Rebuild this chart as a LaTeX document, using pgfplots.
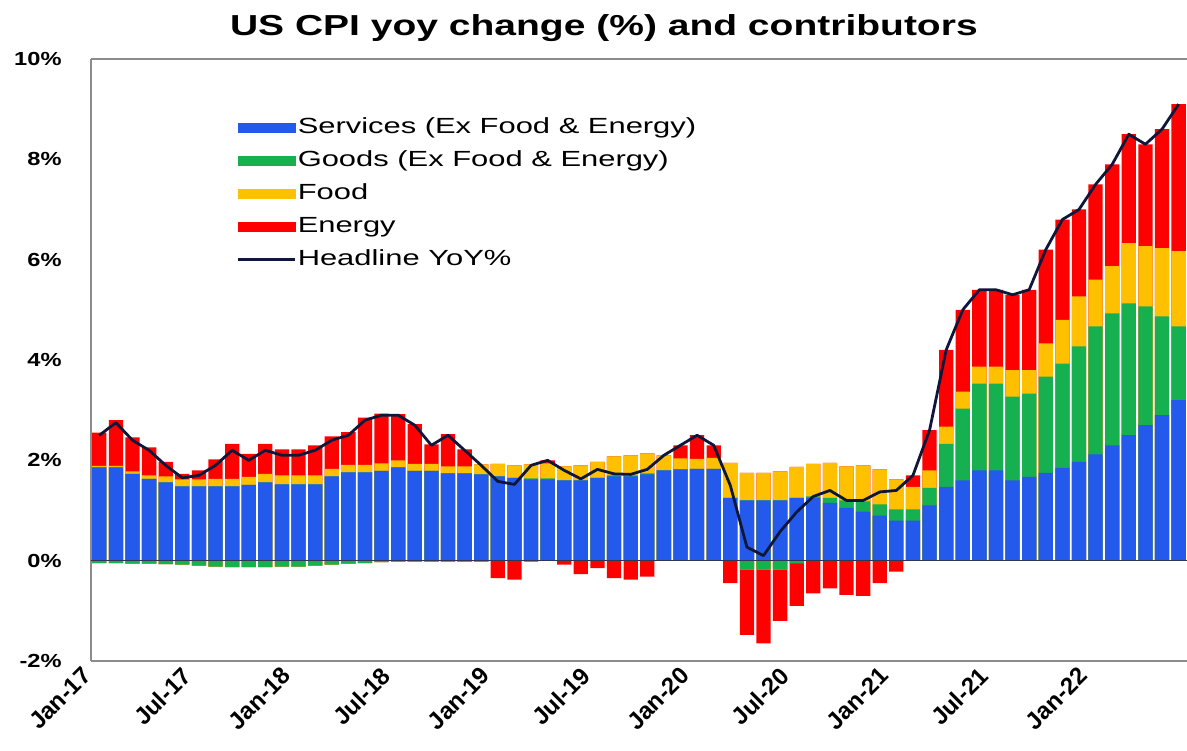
\documentclass[border=0pt]{standalone}
\usepackage{pgfplots}
\pgfplotsset{compat=1.18}
\usepackage{pgfplotstable}
\usepackage{graphicx}
\usepackage{fontspec}
\setmainfont{Liberation Sans}
\definecolor{cS}{RGB}{36,90,235}
\definecolor{cG}{RGB}{22,176,80}
\definecolor{cF}{RGB}{255,192,0}
\definecolor{cE}{RGB}{255,0,0}
\definecolor{cH}{RGB}{14,22,58}
\definecolor{cAx}{RGB}{140,140,140}
\pgfplotstableread{
idx S G F E H
0 1.86 -0.05 0.03 0.66 2.5
1 1.86 -0.05 0.03 0.91 2.75
2 1.73 -0.06 0.05 0.68 2.4
3 1.63 -0.06 0.07 0.56 2.2
4 1.56 -0.07 0.12 0.29 1.9
5 1.48 -0.08 0.14 0.11 1.65
6 1.48 -0.10 0.14 0.18 1.7
7 1.48 -0.12 0.15 0.39 1.9
8 1.48 -0.13 0.15 0.70 2.2
9 1.51 -0.13 0.16 0.46 2.0
10 1.56 -0.13 0.17 0.60 2.2
11 1.52 -0.12 0.18 0.52 2.1
12 1.52 -0.12 0.18 0.52 2.1
13 1.52 -0.10 0.18 0.60 2.2
14 1.68 -0.08 0.15 0.65 2.4
15 1.76 -0.06 0.15 0.65 2.5
16 1.76 -0.05 0.15 0.94 2.8
17 1.79 -0.03 0.15 0.99 2.9
18 1.86 -0.02 0.14 0.92 2.9
19 1.79 -0.02 0.14 0.79 2.7
20 1.79 -0.02 0.14 0.39 2.3
21 1.74 -0.02 0.14 0.64 2.5
22 1.74 -0.02 0.14 0.34 2.2
23 1.72 -0.02 0.20 0.00 1.9
24 1.68 0.00 0.25 -0.35 1.58
25 1.65 0.00 0.25 -0.38 1.52
26 1.62 0.02 0.28 -0.02 1.9
27 1.62 0.02 0.30 0.06 2.0
28 1.60 0.00 0.28 -0.08 1.8
29 1.60 0.00 0.30 -0.27 1.63
30 1.65 0.00 0.32 -0.15 1.82
31 1.68 0.02 0.38 -0.35 1.73
32 1.68 0.02 0.40 -0.38 1.72
33 1.72 0.02 0.40 -0.32 1.82
34 1.80 0.00 0.30 0.00 2.1
35 1.82 0.00 0.22 0.26 2.3
36 1.83 0.00 0.20 0.47 2.5
37 1.83 0.00 0.22 0.25 2.3
38 1.25 0.00 0.70 -0.45 1.5
39 1.20 -0.18 0.55 -1.30 0.27
40 1.20 -0.18 0.55 -1.47 0.1
41 1.20 -0.18 0.58 -1.02 0.58
42 1.25 -0.05 0.62 -0.85 0.97
43 1.25 0.03 0.65 -0.65 1.28
44 1.15 0.10 0.70 -0.55 1.4
45 1.05 0.15 0.68 -0.68 1.2
46 0.98 0.20 0.72 -0.70 1.2
47 0.90 0.22 0.70 -0.45 1.37
48 0.80 0.22 0.60 -0.22 1.4
49 0.80 0.22 0.45 0.23 1.7
50 1.10 0.35 0.35 0.80 2.6
51 1.47 0.86 0.34 1.53 4.2
52 1.60 1.43 0.34 1.63 5.0
53 1.80 1.73 0.34 1.53 5.4
54 1.80 1.73 0.34 1.53 5.4
55 1.60 1.67 0.53 1.50 5.3
56 1.67 1.66 0.47 1.60 5.4
57 1.75 1.92 0.66 1.87 6.2
58 1.85 2.08 0.87 2.00 6.8
59 1.97 2.30 1.00 1.73 7.0
60 2.12 2.55 0.93 1.90 7.5
61 2.30 2.63 0.94 2.03 7.9
62 2.50 2.63 1.20 2.17 8.5
63 2.70 2.37 1.20 2.03 8.3
64 2.90 1.97 1.36 2.37 8.6
65 3.20 1.47 1.50 2.93 9.1
}\cpi

\begin{document}
\begin{tikzpicture}
\begin{axis}[
  scale only axis, width=1096bp, height=602bp,
  at={(0,0)}, anchor=south west,
  xmin=-0.5, xmax=65.5, ymin=-2, ymax=10,
  axis x line*=box, axis y line*=left,
  axis line style={draw=cAx, line width=1.8bp},
  tick style={draw=none},
  ytick={-2,0,2,4,6,8,10},
  yticklabels={-2\%,0\%,2\%,4\%,6\%,8\%,10\%},
  yticklabel style={font=\bfseries\fontsize{19}{22}\selectfont, xscale=1.25, anchor=east, xshift=-20bp},
  xtick={-0.5,5.5,11.5,17.5,23.5,29.5,35.5,41.5,47.5,53.5,59.5},
  xticklabels={Jan-17,Jul-17,Jan-18,Jul-18,Jan-19,Jul-19,Jan-20,Jul-20,Jan-21,Jul-21,Jan-22},
  xticklabel style={font=\bfseries\fontsize{24}{28}\selectfont, xshift=-10bp, yshift=-3bp, rotate=45, anchor=north east, inner sep=1bp},
  title={\scalebox{1.35}[1]{US CPI yoy change (\%) and contributors}},
  title style={font=\bfseries\fontsize{29}{34}\selectfont, at={(axis description cs:0.468,1)}, anchor=base, yshift=18bp},
  legend style={at={(axis description cs:0.133,0.905)}, anchor=north west, draw=none, fill=none,
    font=\fontsize{22}{25}\selectfont, row sep=10bp, inner sep=0pt,
    nodes={inner sep=1bp, text height=16bp, text depth=5bp}},
  legend cell align=left,
]
% positive stack, drawn from the top down
\addplot[ybar, bar width=0.86, bar shift=0pt, fill=cE, draw=none, forget plot]
  table[x=idx, y expr={\thisrow{S}+max(\thisrow{G},0)+max(\thisrow{F},0)+max(\thisrow{E},0)}] {\cpi};
\addplot[ybar, bar width=0.86, bar shift=0pt, fill=cF, draw=none, forget plot]
  table[x=idx, y expr={\thisrow{S}+max(\thisrow{G},0)+max(\thisrow{F},0)}] {\cpi};
\addplot[ybar, bar width=0.86, bar shift=0pt, fill=cG, draw=none, forget plot]
  table[x=idx, y expr={\thisrow{S}+max(\thisrow{G},0)}] {\cpi};
\addplot[ybar, bar width=0.86, bar shift=0pt, fill=cS, draw=none, forget plot]
  table[x=idx, y=S] {\cpi};
% negative stack
\addplot[ybar, bar width=0.86, bar shift=0pt, fill=cE, draw=none, forget plot]
  table[x=idx, y expr={min(\thisrow{G},0)+min(\thisrow{F},0)+min(\thisrow{E},0)}] {\cpi};
\addplot[ybar, bar width=0.86, bar shift=0pt, fill=cF, draw=none, forget plot]
  table[x=idx, y expr={min(\thisrow{G},0)+min(\thisrow{F},0)}] {\cpi};
\addplot[ybar, bar width=0.86, bar shift=0pt, fill=cG, draw=none, forget plot]
  table[x=idx, y expr={min(\thisrow{G},0)}] {\cpi};
% headline
\addplot[cH, line width=2.8bp, line join=round, forget plot] table[x=idx, y=H] {\cpi};

\addlegendimage{legend image code/.code={\fill[cS] (0bp,-4.5bp) rectangle (57bp,4.5bp);}}
\addlegendentry{\scalebox{1.41}[1]{Services (Ex Food \& Energy)}}
\addlegendimage{legend image code/.code={\fill[cG] (0bp,-4.5bp) rectangle (57bp,4.5bp);}}
\addlegendentry{\scalebox{1.41}[1]{Goods (Ex Food \& Energy)}}
\addlegendimage{legend image code/.code={\fill[cF] (0bp,-4.5bp) rectangle (57bp,4.5bp);}}
\addlegendentry{\scalebox{1.41}[1]{Food}}
\addlegendimage{legend image code/.code={\fill[cE] (0bp,-4.5bp) rectangle (57bp,4.5bp);}}
\addlegendentry{\scalebox{1.41}[1]{Energy}}
\addlegendimage{legend image code/.code={\draw[cH, line width=2.8bp] (0bp,0bp) -- (57bp,0bp);}}
\addlegendentry{\scalebox{1.41}[1]{Headline YoY\%}}

\draw[cH!70!gray, line width=1bp] (axis cs:-0.5,0) -- (axis cs:65.5,0);
\end{axis}
\pgfresetboundingbox
\path[use as bounding box] (-91bp,-90bp) rectangle (1096bp,661bp);
\end{tikzpicture}
\end{document}
